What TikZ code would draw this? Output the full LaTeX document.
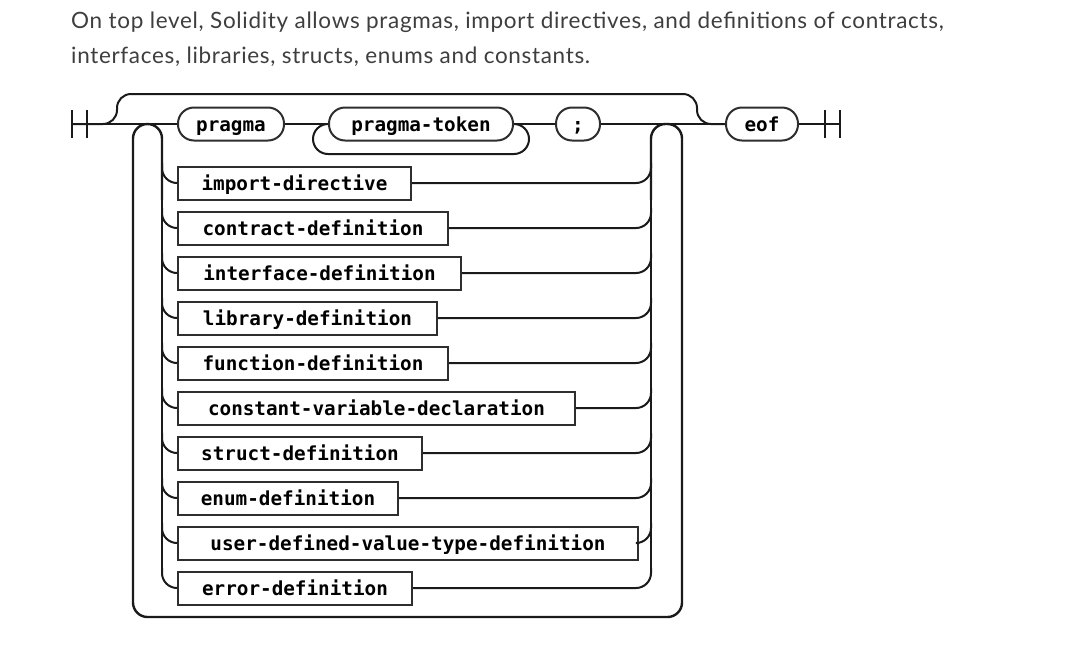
\documentclass[tikz,border=0pt]{standalone}
\usepackage{fontspec}
\setmainfont{Lato}
\newfontfamily\hdrfont{Lato}[LetterSpace=3]
\newfontfamily\monofam{DejaVu Sans Mono}
\definecolor{hdr}{HTML}{3E3E3E}
\definecolor{ink}{HTML}{1A1A1A}
\definecolor{boxc}{HTML}{2E2E2E}
\tikzset{
  rail/.style={draw=ink, line width=2pt},
  thick rail/.style={draw=ink, line width=2.4pt},
  ntbox/.style={draw=boxc, line width=2pt, fill=white, minimum height=33pt, inner sep=0pt,
    text height=19pt, text depth=4pt,
    anchor=west, font=\monofam\bfseries\fontsize{19.3}{22}\selectfont, text=black},
  tmbox/.style={ntbox, rounded corners=16pt},
  hdrtext/.style={anchor=base west, inner sep=0pt, font=\hdrfont\fontsize{22.5}{26}\selectfont, text=hdr}
}
\begin{document}
\begin{tikzpicture}[x=1pt,y=-1pt]
\useasboundingbox (0,0) rectangle (1068,649);
% header
\node[hdrtext] (h1) at (71,28)
  {On top level, Solidity allows pragmas, import directives, and definitions of contracts,};
\node[hdrtext] (h2) at (71,63.5)
  {interfaces, libraries, structs, enums and constants.};

% start / end
\coordinate (s) at (72,124);
\coordinate (e) at (840,124);
\draw[rail] (72,110) -- (72,138);
\draw[rail] (87,110) -- (87,138);
\draw[rail] (825,110) -- (825,138);
\draw[rail] (840,110) -- (840,138);

% top row nodes
\node[tmbox, minimum width=106pt] (pragma) at (177,124) {pragma};
\node[tmbox, minimum width=184pt] (ptok) at (328,124) {pragma-token};
\node[tmbox, minimum width=44pt] (semi) at (555,124) {;};
\node[tmbox, minimum width=72pt] (eof) at (725,124) {eof};

% alternatives
\node[ntbox, minimum width=233pt] (imp) at (177,183) {import-directive};
\node[ntbox, minimum width=270pt] (con) at (177,228) {contract-definition};
\node[ntbox, minimum width=283pt] (int) at (177,273) {interface-definition};
\node[ntbox, minimum width=259pt] (lib) at (177,318) {library-definition};
\node[ntbox, minimum width=270pt] (fun) at (177,363) {function-definition};
\node[ntbox, minimum width=397pt] (cvd) at (177,408) {constant-variable-declaration};
\node[ntbox, minimum width=244pt] (str) at (177,453) {struct-definition};
\node[ntbox, minimum width=220pt] (enu) at (177,498) {enum-definition};
\node[ntbox, minimum width=460pt] (udv) at (177,543) {user-defined-value-type-definition};
\node[ntbox, minimum width=234pt] (err) at (177,588) {error-definition};

% main line
\draw[rail] (s) -- (pragma.west);
\draw[rail] (pragma.east) -- (ptok.west);
\draw[rail] (ptok.east) -- (semi.west);
\draw[rail] (semi.east) -- (eof.west);
\draw[rail] (eof.east) -- (e);

% bypass over everything
\draw[rail, rounded corners=14pt] (s) -- (117,124) -- (117,94) -- (697,94) -- (697,124) -- (eof.west);

% pragma-token repetition loop
\draw[rail, rounded corners=15pt] (ptok.east) -- ++(15,0) -- ++(0,30) -- (313,154) -- (313,124) -- (ptok.west);

% outer repetition loop with arches
\draw[thick rail, rounded corners=14.5pt] (162,200) -- (162,124) -- (133,124) -- (133,617) -- (682,617) -- (682,124) -- (651,124) -- (651,200);

% spines
\draw[thick rail] (162,190) -- (162,574);
\draw[thick rail] (651,190) -- (651,574);

% branches
\foreach \n in {imp,con,int,lib,fun,cvd,str,enu,udv,err}{
  \draw[rail, rounded corners=15pt] (\n.west) ++(-15,-20) -- ++(0,20) -- (\n.west);
  \draw[rail, rounded corners=15pt] (\n.east) -- (\n.east -| 651,0) -- ++(0,-20);
}
\end{tikzpicture}
\end{document}
